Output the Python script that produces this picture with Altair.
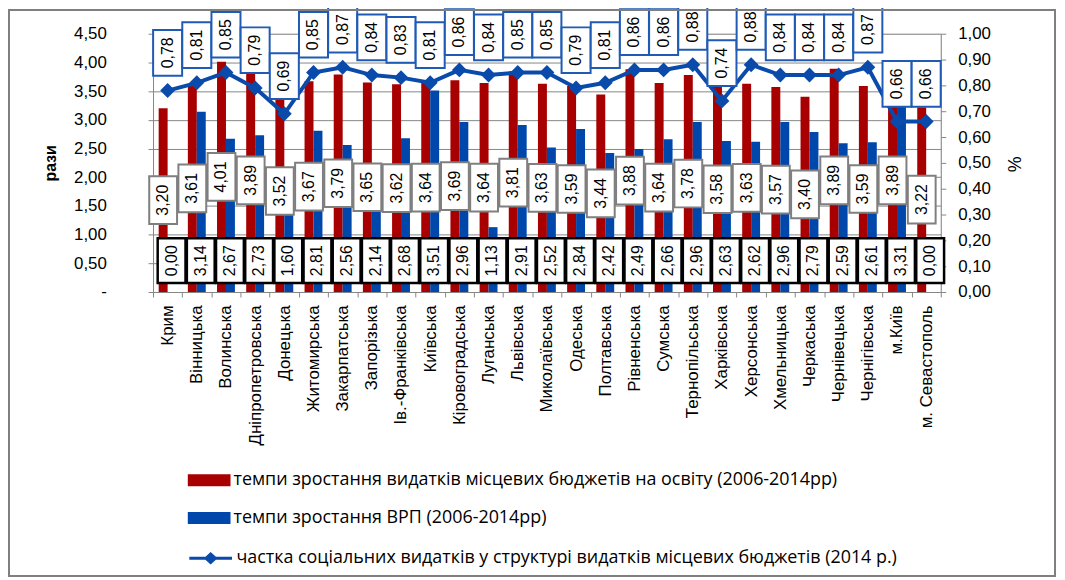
import altair as alt
import pandas as pd

regions = ["Крим", "Вінницька", "Волинська", "Дніпропетровська", "Донецька", "Житомирська",
           "Закарпатська", "Запорізька", "Ів.-Франківська", "Київська", "Кіровоградська",
           "Луганська", "Львівська", "Миколаївська", "Одеська", "Полтавська", "Рівненська",
           "Сумська", "Тернопільська", "Харківська", "Херсонська", "Хмельницька", "Черкаська",
           "Чернівецька", "Чернігівська", "м.Київ", "м. Севастополь"]
edu = [3.20, 3.61, 4.01, 3.89, 3.52, 3.67, 3.79, 3.65, 3.62, 3.64, 3.69, 3.64, 3.81, 3.63,
       3.59, 3.44, 3.88, 3.64, 3.78, 3.58, 3.63, 3.57, 3.40, 3.89, 3.59, 3.89, 3.22]
grp = [0.00, 3.14, 2.67, 2.73, 1.60, 2.81, 2.56, 2.14, 2.68, 3.51, 2.96, 1.13, 2.91, 2.52,
       2.84, 2.42, 2.49, 2.66, 2.96, 2.63, 2.62, 2.96, 2.79, 2.59, 2.61, 3.31, 0.00]
share = [0.78, 0.81, 0.85, 0.79, 0.69, 0.85, 0.87, 0.84, 0.83, 0.81, 0.86, 0.84, 0.85, 0.85,
         0.79, 0.81, 0.86, 0.86, 0.88, 0.74, 0.88, 0.84, 0.84, 0.84, 0.87, 0.66, 0.66]

EDU = "темпи  зростання видатків місцевих бюджетів на освіту (2006-2014рр)"
GRP = "темпи  зростання ВРП (2006-2014рр)"
SHARE = "частка соціальних видатків у структурі видатків місцевих бюджетів (2014 р.)"

left_ticks = [0, 0.5, 1, 1.5, 2, 2.5, 3, 3.5, 4, 4.5]
right_ticks = [0, 0.1, 0.2, 0.3, 0.4, 0.5, 0.6, 0.7, 0.8, 0.9, 1.0]

df = pd.DataFrame({"region": regions, "edu": edu, "grp": grp, "share": share})
bars_df = pd.DataFrame({
    "region": regions + regions,
    "series": [EDU] * len(regions) + [GRP] * len(regions),
    "value": edu + grp,
})

W, H = 793, 260
RED = "#A80000"
BLUE = "#0047AB"
LINE = "#0A4AAA"
BOXBLUE = "#1F5BB5"
GRID = "#868686"
FONT = "Liberation Sans"
LEGFONT = "Open Sans"

fmt = "replace(format(datum.value, '.2f'), '.', ',')"

X = alt.X("region:N", sort=regions,
          scale=alt.Scale(paddingInner=0, paddingOuter=0),
          axis=alt.Axis(title=None, labelAngle=270, labelFont=FONT, labelFontSize=17,
                        labelFontWeight="normal", labelColor="black", labelPadding=8,
                        tickBand="extent", tickSize=5, tickColor=GRID, domainColor=GRID,
                        labelLimit=300))

YL = alt.Y("value:Q", scale=alt.Scale(domain=[0, 4.5], nice=False),
           axis=alt.Axis(title="рази", values=left_ticks,
                         labelExpr="datum.value == 0 ? '-' : " + fmt,
                         grid=True, gridColor=GRID, gridWidth=1,
                         domainColor=GRID, tickColor=GRID, tickSize=5, labelPadding=42,
                         labelFont=FONT, labelFontSize=17, labelColor="black",
                         titleFont=FONT, titleFontSize=16, titleFontWeight="bold",
                         titleColor="black", titleAngle=270, titleX=-103, titleY=130,
                         titleAlign="center", titleBaseline="middle"))

YR = alt.Y("share:Q", scale=alt.Scale(domain=[0, 1], nice=False),
           axis=alt.Axis(orient="right", title="%", values=right_ticks, labelExpr=fmt,
                         grid=False, domainColor=GRID, tickColor=GRID, tickSize=5,
                         labelPadding=12, labelFont=FONT, labelFontSize=17, labelColor="black",
                         titleFont=FONT, titleFontSize=18, titleFontWeight="normal",
                         titleColor="black", titleAngle=270, titleX=75, titleY=131,
                         titleAlign="center", titleBaseline="middle"))

bars = alt.Chart(bars_df).mark_bar().encode(
    x=X,
    xOffset=alt.XOffset("series:N", sort=[EDU, GRP],
                        scale=alt.Scale(paddingInner=0, paddingOuter=0.63)),
    y=YL,
    color=alt.Color("series:N", sort=[EDU, GRP],
                    scale=alt.Scale(domain=[EDU, GRP], range=[RED, BLUE]),
                    legend=alt.Legend(title=None, orient="none", legendX=35, legendY=428,
                                      direction="vertical",
                                      symbolType="M-1,-0.28L1,-0.28L1,0.28L-1,0.28Z",
                                      symbolSize=1849, symbolStrokeWidth=0,
                                      labelFont=LEGFONT, labelFontSize=18, labelColor="black",
                                      labelLimit=1000, labelOffset=3, rowPadding=7)),
)

red_base = alt.Chart(df).transform_calculate(
    value="datum.edu / 2",
    lab="replace(format(datum.edu, '.2f'), '.', ',')",
)
red_box = red_base.mark_point(
    shape="M-0.771,-1L0.396,-1L0.396,1L-0.771,1Z", size=2304, fill="white",
    fillOpacity=1, stroke="#7F7F7F", strokeWidth=2, opacity=1,
).encode(x=X, y=YL)
red_text = red_base.mark_text(
    angle=270, dy=-4.5, font=FONT, fontSize=16, color="black",
    align="center", baseline="middle",
).encode(x=X, y=YL, text="lab:N")

blue_base = alt.Chart(df).transform_calculate(
    value="0",
    lab="replace(format(datum.grp, '.2f'), '.', ',')",
)
blue_box = blue_base.mark_point(
    shape="M-0.435,-0.391L0.783,-0.391L0.783,-2.348L-0.435,-2.348Z", size=2116,
    fill="white", fillOpacity=1, stroke="black", strokeWidth=2.5, opacity=1,
).encode(x=X, y=YL)
blue_text = blue_base.mark_text(
    angle=270, dx=31.5, dy=4, font=FONT, fontSize=16, color="black",
    align="center", baseline="middle",
).encode(x=X, y=YL, text="lab:N")

line_base = alt.Chart(df).transform_calculate(
    sname="'" + SHARE + "'",
    lab="replace(format(datum.share, '.2f'), '.', ',')",
)
line = line_base.mark_line(
    strokeWidth=4,
    point=alt.OverlayMarkDef(shape="diamond", size=225, filled=True),
).encode(
    x=X, y=YR,
    color=alt.Color("sname:N", scale=alt.Scale(range=[LINE]),
                    legend=alt.Legend(title=None, orient="none", legendX=35, legendY=505,
                                      symbolType="M-1,0L1,0M-0.22,0L0,-0.2L0.22,0L0,0.2Z",
                                      symbolSize=1849, symbolStrokeWidth=3,
                                      symbolFillColor=LINE, symbolStrokeColor=LINE,
                                      labelFont=LEGFONT, labelFontSize=18, labelColor="black",
                                      labelLimit=1000, labelOffset=3)),
)
line_box = line_base.mark_point(
    shape="M-0.635,-0.652L0.635,-0.652L0.635,-2.652L-0.635,-2.652Z", size=2116,
    fill="white", fillOpacity=1, stroke=BOXBLUE, strokeWidth=2, opacity=1,
).encode(x=X, y=YR)
line_text = line_base.mark_text(
    angle=270, dx=38, font=FONT, fontSize=16, color="black",
    align="center", baseline="middle",
).encode(x=X, y=YR, text="lab:N")

frame = alt.Chart(pd.DataFrame({"f": [0]})).mark_rect(
    fill=None, stroke="#7F7F7F", strokeWidth=2,
).encode(x=alt.value(-145), x2=alt.value(908), y=alt.value(-24), y2=alt.value(546))

left = alt.layer(bars, red_box, red_text, blue_box, blue_text)
right = alt.layer(line, line_box, line_text)

chart = alt.layer(left, right, frame).resolve_scale(
    y="independent", color="independent"
).properties(
    width=W, height=H,
    autosize=alt.AutoSizeParams(type="none"),
    padding={"left": 146, "top": 24, "right": 117, "bottom": 287},
).configure_view(stroke=None).configure(background="white")

chart.save("out.html", embed_options={"renderer": "svg", "actions": False})
